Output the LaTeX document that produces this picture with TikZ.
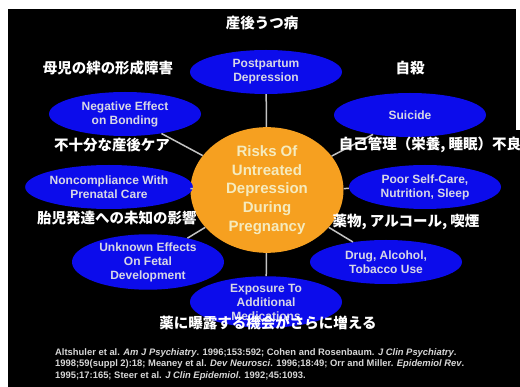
\documentclass[tikz,border=0pt]{standalone}
\usepackage{fontspec}
\setmainfont{Liberation Sans}
\newfontfamily\jp{Noto Sans CJK JP}
\usetikzlibrary{shapes.geometric}
\definecolor{bblue}{RGB}{12,12,235}
\definecolor{orng}{RGB}{246,160,32}
\definecolor{cream}{RGB}{245,235,190}
\definecolor{ltxt}{RGB}{215,215,230}
\definecolor{lgrey}{RGB}{195,195,195}
\definecolor{citec}{RGB}{215,215,215}
\begin{document}
\begin{tikzpicture}[x=1pt,y=-1pt,
 risk/.style={ellipse, draw=none, fill=bblue, minimum width=152pt, minimum height=44pt, inner sep=0pt, align=center, text=ltxt, font=\bfseries\fontsize{12}{14}\selectfont},
 hub/.style={ellipse, fill=orng, minimum width=153pt, minimum height=106pt, inner sep=0pt, align=center, text=cream, font=\bfseries\fontsize{15}{18.7}\selectfont},
 jlabel/.style={text=white, font=\jp\bfseries\fontsize{14.5}{16}\selectfont, inner sep=0pt},
 spoke/.style={draw=lgrey, line width=1.5pt},
 citestyle/.style={text=citec, align=left, inner sep=0pt, anchor=north west, font=\bfseries\fontsize{9.4}{11.5}\selectfont}]
\useasboundingbox (0,0) rectangle (520,387);
\fill[white] (0,0) rectangle (520,387);
\fill[black] (8,9) rectangle (520,387);
\fill[white] (516,0) rectangle (520,130);
% nodes
\node[hub] (c) at (267,190) {Risks Of\\Untreated\\Depression\\During\\Pregnancy};
\node[risk] (pp) at (266,72) {Postpartum\\Depression};
\node[risk] (su) at (410,115) {Suicide};
\node[risk] (nb) at (125,114) {Negative Effect\\on Bonding};
\node[risk] (nc) at (109,187) {Noncompliance With\\Prenatal Care};
\node[risk] (ps) at (425,187) {Poor Self-Care,\\Nutrition, Sleep};
\node[risk] (uf) at (148,262) {Unknown Effects\\On Fetal\\Development};
\node[risk] (dr) at (386,262) {Drug, Alcohol,\\Tobacco Use};
\node[risk] (ex) at (266,302) {Exposure To\\Additional\\Medications};
% spokes
\foreach \t in {pp,su,nb,nc,ps,uf,dr,ex}{\draw[spoke] (c) -- (\t);}
% Japanese labels
\node[jlabel] (j1) at (262,23) {産後うつ病};
\node[jlabel] (j2) at (108,68) {母児の絆の形成障害};
\node[jlabel] (j3) at (410,68) {自殺};
\node[jlabel] (j4) at (112,145) {不十分な産後ケア};
\node[jlabel] (j5) at (430,145) {自己管理（栄養, 睡眠）不良};
\node[jlabel] (j6) at (117,218) {胎児発達への未知の影響};
\node[jlabel] (j7) at (406,222) {薬物, アルコール, 喫煙};
\node[jlabel] (j8) at (268,323) {薬に曝露する機会がさらに増える};
% citation
\node[citestyle] (cite) at (55,348) {Altshuler et al. \textit{Am J Psychiatry}. 1996;153:592; Cohen and Rosenbaum. \textit{J Clin Psychiatry}.\\
1998;59(suppl 2):18; Meaney et al. \textit{Dev Neurosci}. 1996;18:49; Orr and Miller. \textit{Epidemiol Rev}.\\
1995;17:165; Steer et al. \textit{J Clin Epidemiol}. 1992;45:1093.};
\end{tikzpicture}
\end{document}
